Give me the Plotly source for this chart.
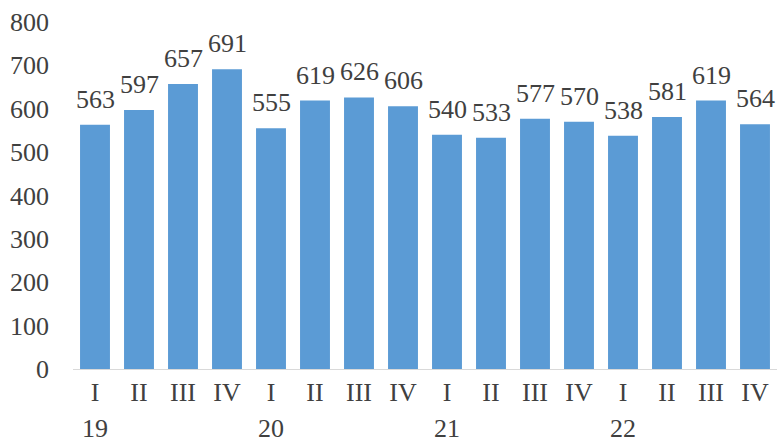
import plotly.graph_objects as go

quarters = ["I", "II", "III", "IV"] * 4
years = ["19", "", "", "", "20", "", "", "", "21", "", "", "", "22", "", "", ""]
values = [563, 597, 657, 691, 555, 619, 626, 606, 540, 533, 577, 570, 538, 581, 619, 564]
y_ticks = [0, 100, 200, 300, 400, 500, 600, 700, 800]

x = list(range(len(values)))

font = dict(family="Liberation Serif, Times New Roman, serif", size=26, color="#404040")

fig = go.Figure(go.Bar(
    x=x, y=values,
    marker=dict(color="#5B9BD5", line=dict(width=0)),
    hoverinfo="skip",
))
for xi, v in zip(x, values):
    fig.add_annotation(x=xi, y=v, xref="x", yref="y", text=str(v),
                       showarrow=False, yanchor="bottom", yshift=9, font=font)
for xi, yr in zip(x, years):
    if yr:
        fig.add_annotation(x=xi, y=0, xref="x", yref="paper", text=yr,
                           showarrow=False, yanchor="middle", yshift=-59, font=font)
fig.update_layout(
    width=777, height=442,
    margin=dict(l=73, r=0, t=22, b=73),
    paper_bgcolor="white", plot_bgcolor="white",
    bargap=0.32, showlegend=False, font=font,
)
fig.update_xaxes(
    tickmode="array", tickvals=x, ticktext=quarters,
    range=[-0.5, len(values) - 0.5],
    showline=True, linecolor="#D9D9D9", linewidth=1,
    showgrid=False, ticks="", tickfont=font,
)
fig.update_yaxes(
    range=[0, 800], tickvals=y_ticks, showgrid=False, zeroline=False,
    showline=False, ticks="", tickfont=font, ticklabelstandoff=23,
)
fig.write_html("out.html", config={"displayModeBar": False},
               post_script="document.body.style.margin='0';")
